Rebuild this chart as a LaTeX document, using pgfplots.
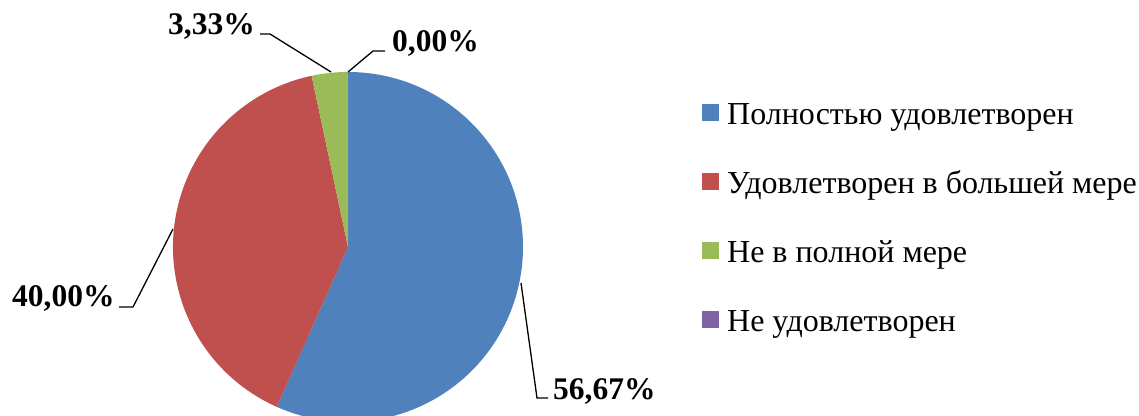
\documentclass[border=0pt]{standalone}
\usepackage{pgfplots}
\pgfplotsset{compat=1.18}
\usepackage{fontspec}
\setmainfont{Liberation Serif}
\definecolor{pieblue}{HTML}{4F81BD}
\definecolor{piered}{HTML}{C0504D}
\definecolor{piegreen}{HTML}{9BBB59}
\definecolor{piepurple}{HTML}{8064A2}
\begin{document}
\begin{tikzpicture}
\begin{axis}[
  width=1139bp, height=416bp, scale only axis,
  xmin=0, xmax=1139, ymin=0, ymax=416,
  hide axis, clip=false,
]
% slices (percent values): 56.67, 40.00, 3.33, 0.00 ; 1% = 3.6 degrees
\fill[pieblue]  (axis cs:348,169) -- (axis cs:348,344) arc[start angle=90, delta angle={-3.6*56.67}, radius=175bp] -- cycle;
\fill[piered]   (axis cs:348,169) -- ++({90-3.6*56.67}:175bp) arc[start angle={90-3.6*56.67}, delta angle={-3.6*40.00}, radius=175bp] -- cycle;
\fill[piegreen] (axis cs:348,169) -- ++({90-3.6*96.67}:175bp) arc[start angle={90-3.6*96.67}, delta angle={-3.6*3.33}, radius=175bp] -- cycle;
% leader lines
\draw[line width=1.3bp] (axis cs:521,133) -- (axis cs:537,18) -- (axis cs:548,18);
\draw[line width=1.3bp] (axis cs:173,187) -- (axis cs:133,109) -- (axis cs:119,109);
\draw[line width=1.3bp] (axis cs:331,344) -- (axis cs:270,382) -- (axis cs:260,382);
\draw[line width=1.3bp] (axis cs:348,344) -- (axis cs:373,365) -- (axis cs:385,365);
% data labels
\begin{scope}[every node/.style={inner sep=0pt, anchor=base west, font=\fontsize{31.5bp}{36bp}\selectfont\bfseries}]
\node at (axis cs:553,17) {56,67\%};
\node at (axis cs:12,109) {40,00\%};
\node at (axis cs:168,381) {3,33\%};
\node at (axis cs:392,364) {0,00\%};
\end{scope}
% legend
\begin{scope}[every node/.style={inner sep=0pt, anchor=base west, font=\fontsize{32bp}{38bp}\selectfont}]
\fill[pieblue]   (axis cs:702,295) rectangle (axis cs:719,312);
\node at (axis cs:727,291) {Полностью удовлетворен};
\fill[piered]    (axis cs:702,226) rectangle (axis cs:719,243);
\node at (axis cs:727,222) {Удовлетворен в большей мере};
\fill[piegreen]  (axis cs:702,157) rectangle (axis cs:719,174);
\node at (axis cs:727,153) {Не в полной мере};
\fill[piepurple] (axis cs:702,88) rectangle (axis cs:719,105);
\node at (axis cs:727,84) {Не удовлетворен};
\end{scope}
\end{axis}
\pgfresetboundingbox
\path (current axis.south west) rectangle (current axis.north east);
\end{tikzpicture}
\end{document}
